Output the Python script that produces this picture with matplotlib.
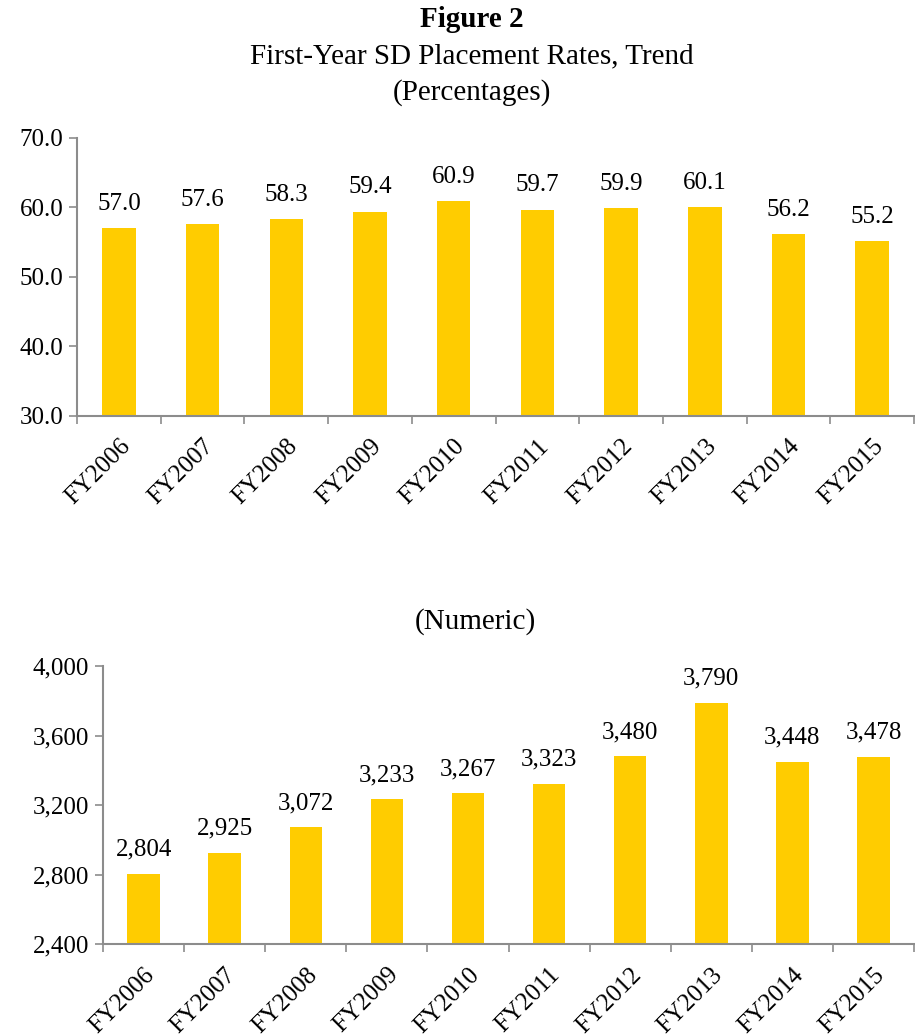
import matplotlib
matplotlib.use('Agg')
import matplotlib.pyplot as plt

years = ['FY2006', 'FY2007', 'FY2008', 'FY2009', 'FY2010',
         'FY2011', 'FY2012', 'FY2013', 'FY2014', 'FY2015']
pct_rates = [57.0, 57.6, 58.3, 59.4, 60.9, 59.7, 59.9, 60.1, 56.2, 55.2]
num_placed = [2804, 2925, 3072, 3233, 3267, 3323, 3480, 3790, 3448, 3478]

plt.rcParams['font.family'] = ['Liberation Serif', 'DejaVu Serif']

bar_color = '#FFCC00'
axis_color = '#8C8C8C'
fs = 18

fig = plt.figure(figsize=(9.15, 10.36), dpi=100)


def draw_panel(ax, values, ylim, yticks, ylabel_fmt, label_fmt, offset):
    x = list(range(len(values)))
    ax.bar(x, values, width=0.4, color=bar_color, zorder=2)
    ax.set_xlim(-0.5, len(values) - 0.5)
    ax.set_ylim(*ylim)
    ax.set_yticks(yticks)
    ax.set_yticklabels([ylabel_fmt(v) for v in yticks], fontsize=fs)
    ax.set_xticks(x)
    ax.set_xticklabels(years, rotation=45, ha='right', rotation_mode='anchor', fontsize=fs)
    ax.set_xticks([i - 0.5 for i in range(len(values) + 1)], minor=True)
    ax.tick_params(axis='x', which='major', length=0, pad=14)
    ax.tick_params(axis='x', which='minor', length=6, color=axis_color, width=1.2)
    ax.tick_params(axis='y', length=6, color=axis_color, width=1.2, pad=4)
    for s in ['top', 'right']:
        ax.spines[s].set_visible(False)
    for s in ['left', 'bottom']:
        ax.spines[s].set_color(axis_color)
        ax.spines[s].set_linewidth(1.5)
    for xi, v in zip(x, values):
        ax.text(xi, v + offset, label_fmt(v), ha='center', va='bottom', fontsize=fs)


ax1 = fig.add_axes([0.0842, 0.5985, 0.9148, 0.2683])
draw_panel(ax1, pct_rates, (30, 70), [30, 40, 50, 60, 70],
           lambda v: f'{v:.1f}', lambda v: f'{v:.1f}', 1.9)

ax2 = fig.add_axes([0.1126, 0.0888, 0.8864, 0.2683])
draw_panel(ax2, num_placed, (2400, 4000), [2400, 2800, 3200, 3600, 4000],
           lambda v: f'{v:,.0f}', lambda v: f'{v:,.0f}', 75)

fig.text(0.516, 0.981, 'Figure 2', ha='center', va='center', fontsize=21, fontweight='bold')
fig.text(0.516, 0.946, 'First-Year SD Placement Rates, Trend', ha='center', va='center', fontsize=21)
fig.text(0.516, 0.911, '(Percentages)', ha='center', va='center', fontsize=21)
fig.text(0.52, 0.400, '(Numeric)', ha='center', va='center', fontsize=21)

fig.savefig('out.png', dpi=100)
